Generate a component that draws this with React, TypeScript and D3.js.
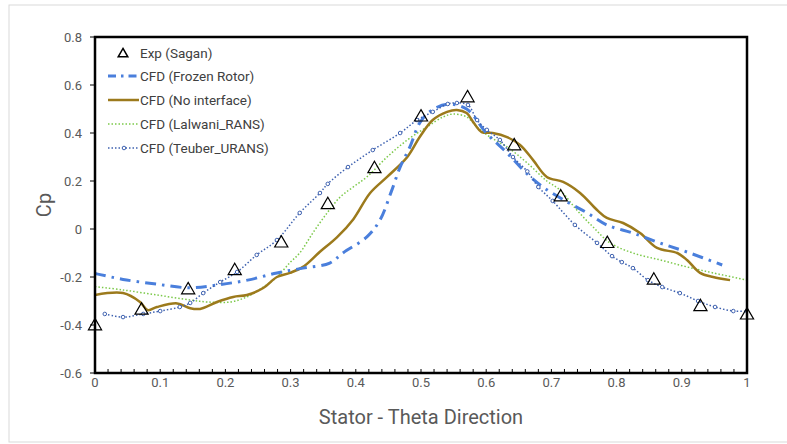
import React from "react";
import * as d3 from "d3";

const expX = [0, 0.0714, 0.1429, 0.2143, 0.2857, 0.3571, 0.4286, 0.5, 0.5714, 0.6429, 0.7143, 0.7857, 0.8571, 0.9286, 1.0];
const expY = [-0.4, -0.335, -0.25, -0.17, -0.055, 0.105, 0.255, 0.47, 0.55, 0.35, 0.137, -0.057, -0.21, -0.32, -0.355];

const frozenX = [0, 0.008, 0.043, 0.095, 0.146, 0.188, 0.234, 0.279, 0.319, 0.36, 0.38, 0.417, 0.437, 0.455, 0.468, 0.483, 0.498, 0.514, 0.54, 0.57, 0.6, 0.632, 0.66, 0.687, 0.724, 0.755, 0.785, 0.825, 0.866, 0.908, 0.962];
const frozenY = [-0.185, -0.19, -0.21, -0.23, -0.245, -0.233, -0.213, -0.183, -0.163, -0.142, -0.1, -0.033, 0.037, 0.16, 0.258, 0.342, 0.442, 0.49, 0.52, 0.5, 0.4, 0.317, 0.237, 0.175, 0.113, 0.067, 0.017, -0.017, -0.058, -0.096, -0.15];

const noIfX = [0, 0.043, 0.069, 0.081, 0.095, 0.126, 0.146, 0.161, 0.187, 0.212, 0.233, 0.258, 0.279, 0.299, 0.319, 0.345, 0.371, 0.396, 0.422, 0.448, 0.479, 0.498, 0.518, 0.54, 0.555, 0.57, 0.58, 0.593, 0.61, 0.632, 0.652, 0.672, 0.693, 0.718, 0.744, 0.77, 0.785, 0.81, 0.836, 0.862, 0.893, 0.908, 0.928, 0.948, 0.974];
const noIfY = [-0.275, -0.267, -0.304, -0.338, -0.325, -0.31, -0.33, -0.333, -0.304, -0.283, -0.275, -0.246, -0.2, -0.183, -0.158, -0.095, -0.035, 0.04, 0.15, 0.217, 0.3, 0.383, 0.454, 0.488, 0.496, 0.483, 0.446, 0.404, 0.4, 0.383, 0.35, 0.287, 0.217, 0.196, 0.15, 0.079, 0.046, 0.025, -0.017, -0.079, -0.1, -0.129, -0.183, -0.2, -0.213];

const lalX = [0, 0.043, 0.095, 0.146, 0.172, 0.207, 0.233, 0.258, 0.279, 0.299, 0.314, 0.334, 0.356, 0.376, 0.396, 0.417, 0.448, 0.479, 0.509, 0.534, 0.549, 0.57, 0.586, 0.606, 0.632, 0.663, 0.693, 0.713, 0.739, 0.764, 0.79, 0.825, 0.867, 0.908, 0.948, 1.0];
const lalY = [-0.24, -0.254, -0.275, -0.296, -0.304, -0.304, -0.283, -0.242, -0.2, -0.14, -0.1, -0.017, 0.067, 0.133, 0.175, 0.217, 0.3, 0.371, 0.425, 0.467, 0.479, 0.467, 0.425, 0.383, 0.342, 0.275, 0.2, 0.163, 0.079, 0.008, -0.058, -0.1, -0.129, -0.158, -0.183, -0.213];

const teuX = [0.015, 0.043, 0.074, 0.1, 0.13, 0.146, 0.166, 0.192, 0.218, 0.248, 0.279, 0.314, 0.345, 0.357, 0.388, 0.426, 0.468, 0.494, 0.518, 0.541, 0.555, 0.572, 0.586, 0.601, 0.621, 0.641, 0.663, 0.68, 0.702, 0.736, 0.77, 0.793, 0.808, 0.825, 0.848, 0.87, 0.897, 0.925, 0.951, 0.979, 1.0];
const teuY = [-0.354, -0.367, -0.354, -0.342, -0.325, -0.308, -0.267, -0.221, -0.179, -0.108, -0.046, 0.067, 0.15, 0.188, 0.258, 0.329, 0.4, 0.454, 0.488, 0.521, 0.525, 0.517, 0.454, 0.413, 0.371, 0.3, 0.24, 0.175, 0.117, 0.017, -0.058, -0.113, -0.138, -0.163, -0.213, -0.242, -0.267, -0.3, -0.325, -0.342, -0.342];

const yTicks = [0.8, 0.6, 0.4, 0.2, 0, -0.2, -0.4, -0.6];
const xTicks = [0, 0.1, 0.2, 0.3, 0.4, 0.5, 0.6, 0.7, 0.8, 0.9, 1];
const legendLabels = ["Exp (Sagan)", "CFD (Frozen Rotor)", "CFD (No interface)", "CFD (Lalwani_RANS)", "CFD (Teuber_URANS)"];

const W = 787, H = 444;
const L = 95, R = 747, T = 37, B = 373;
const FONT = "Roboto, 'Open Sans', sans-serif";
const cFrozen = "#4a7fdc";
const cNoIf = "#9c7a1c";
const cLal = "#7cc94a";
const cTeu = "#3f62b0";

export default function App() {
  const x = d3.scaleLinear().domain([0, 1]).range([L, R]);
  const y = d3.scaleLinear().domain([-0.6, 0.8]).range([B, T]);
  const mk = (xs: number[], ys: number[]) =>
    d3.line<number>().x((_, i) => x(xs[i])).y((_, i) => y(ys[i])).curve(d3.curveCatmullRom.alpha(0.5))(xs) || "";
  const minor = d3.range(0, 1.0001, 0.02);
  const tri = d3.symbol().type(d3.symbolTriangle).size(75)() || "";

  const legY = [53, 76, 100, 124, 148];
  return (
    <svg width={W} height={H} style={{ position: "absolute", left: 0, top: 0, background: "#fff" }}>
      <rect x={9} y={5} width={800} height={437} fill="none" stroke="#d9d9d9" strokeWidth={1} />
      <clipPath id="clip"><rect x={L} y={T} width={R - L} height={B - T} /></clipPath>
      {yTicks.map((t) => (
        <g key={t}>
          <line x1={L - 5} x2={L} y1={y(t)} y2={y(t)} stroke="#000" strokeWidth={1} />
          <text x={82} y={y(t)} dy="0.35em" textAnchor="end" fontSize={13} fill="#595959" fontFamily={FONT}>{t}</text>
        </g>
      ))}
      {minor.map((t, i) => (
        <line key={i} x1={x(t)} x2={x(t)} y1={B} y2={B - 4} stroke="#000" strokeWidth={1} />
      ))}
      {xTicks.map((t) => (
        <text key={t} x={x(t)} y={387} textAnchor="middle" fontSize={13} fill="#595959" fontFamily={FONT}>{t}</text>
      ))}
      <text x={(L + R) / 2} y={424} textAnchor="middle" fontSize={20} fill="#595959" fontFamily={FONT}>Stator - Theta Direction</text>
      <text transform={`translate(51,${(T + B) / 2}) rotate(-90)`} textAnchor="middle" fontSize={20} fill="#595959" fontFamily={FONT}>Cp</text>

      <g clipPath="url(#clip)">
        <path d={mk(lalX, lalY)} fill="none" stroke={cLal} strokeWidth={1.5} strokeDasharray="1.5 2" />
        <path d={mk(noIfX, noIfY)} fill="none" stroke={cNoIf} strokeWidth={2.5} />
        <path d={mk(frozenX, frozenY)} fill="none" stroke={cFrozen} strokeWidth={3} strokeDasharray="11 6 2.5 6" />
        <path d={mk(teuX, teuY)} fill="none" stroke={cTeu} strokeWidth={1.5} strokeDasharray="1.5 2" />
        {teuX.map((v, i) => (
          <circle key={i} cx={x(v)} cy={y(teuY[i])} r={1.8} fill="#fff" stroke={cTeu} strokeWidth={1} />
        ))}
      </g>
      {expX.map((v, i) => (
        <path key={i} d={tri} transform={`translate(${x(v)},${y(expY[i]) + 1})`} fill="none" stroke="#000" strokeWidth={1.2} />
      ))}
      <rect x={L} y={T} width={R - L} height={B - T} fill="none" stroke="#000" strokeWidth={2.5} />

      <path d={d3.symbol().type(d3.symbolTriangle).size(40)() || ""} transform={`translate(123,${legY[0] + 1})`} fill="none" stroke="#000" strokeWidth={1.5} />
      <line x1={108} x2={139} y1={legY[1]} y2={legY[1]} stroke={cFrozen} strokeWidth={3} strokeDasharray="8 5 2.5 5" />
      <line x1={108} x2={139} y1={legY[2]} y2={legY[2]} stroke={cNoIf} strokeWidth={2.5} />
      <line x1={108} x2={139} y1={legY[3]} y2={legY[3]} stroke={cLal} strokeWidth={1.5} strokeDasharray="1.5 2" />
      <line x1={108} x2={139} y1={legY[4]} y2={legY[4]} stroke={cTeu} strokeWidth={1.5} strokeDasharray="1.5 2" />
      <circle cx={124} cy={legY[4]} r={1.8} fill="#fff" stroke={cTeu} strokeWidth={1} />
      {legendLabels.map((s, i) => (
        <text key={s} x={140} y={legY[i]} dy="0.35em" fontSize={13.5} fill="#404040" fontFamily={FONT}>{s}</text>
      ))}
    </svg>
  );
}
